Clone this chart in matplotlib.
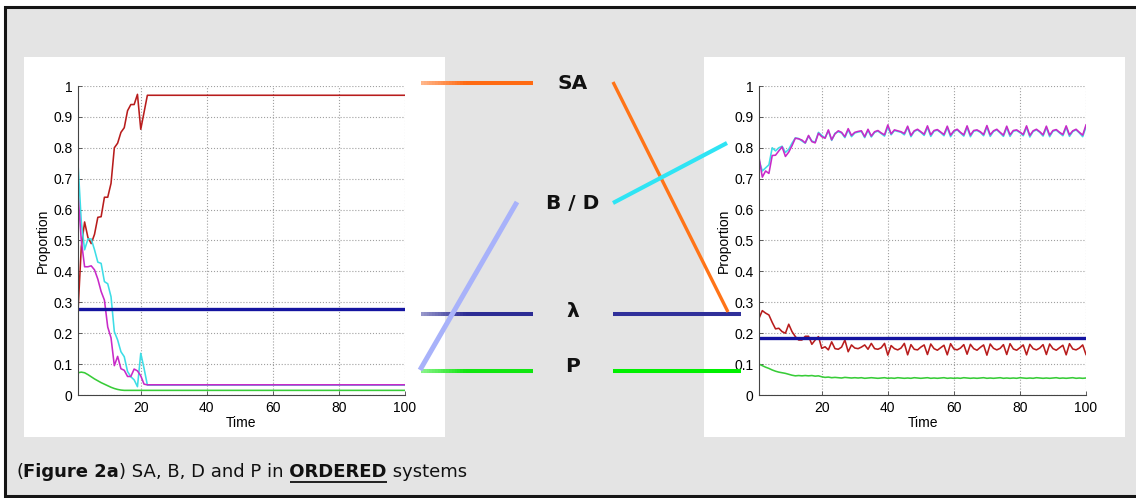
import numpy as np
import matplotlib.pyplot as plt
from matplotlib.patches import Rectangle
from matplotlib.collections import LineCollection
from matplotlib.colors import to_rgb

W, H = 1136, 498

time = np.arange(1, 101)

# ordered system, left panel
left_sa = [0.27, 0.48, 0.56, 0.51, 0.49, 0.52, 0.575, 0.577, 0.64, 0.64,
           0.685, 0.80, 0.815, 0.85, 0.865, 0.92, 0.94, 0.94, 0.973, 0.86,
           0.915, 0.97] + [0.97] * 78
left_b = [0.75, 0.56, 0.47, 0.505, 0.505, 0.47, 0.43, 0.426, 0.367, 0.36,
          0.318, 0.205, 0.178, 0.14, 0.124, 0.076, 0.059, 0.049, 0.027, 0.135,
          0.086, 0.032] + [0.032] * 78
left_d = [0.65, 0.50, 0.415, 0.415, 0.418, 0.405, 0.375, 0.335, 0.307, 0.22,
          0.185, 0.095, 0.125, 0.085, 0.08, 0.06, 0.06, 0.084, 0.078, 0.062,
          0.035, 0.033] + [0.033] * 78
left_p = [0.072, 0.074, 0.072, 0.066, 0.059, 0.052, 0.046, 0.040, 0.035, 0.030,
          0.025, 0.021, 0.018, 0.016, 0.015] + [0.015] * 85
left_lambda = 0.277

# right panel
right_sa = [0.248, 0.273, 0.265, 0.259, 0.235, 0.214, 0.216, 0.205, 0.200, 0.229,
            0.205, 0.189, 0.178, 0.178, 0.190, 0.190, 0.164, 0.178, 0.189, 0.151,
            0.156, 0.146, 0.172, 0.150, 0.148, 0.155, 0.178, 0.140, 0.162, 0.152,
            0.150, 0.155, 0.162, 0.148, 0.167, 0.150, 0.148, 0.153, 0.167, 0.129,
            0.160, 0.150, 0.146, 0.152, 0.167, 0.130, 0.163, 0.148, 0.146, 0.155,
            0.162, 0.131, 0.165, 0.150, 0.145, 0.153, 0.161, 0.130, 0.166, 0.149,
            0.146, 0.152, 0.163, 0.132, 0.164, 0.150, 0.145, 0.154, 0.162, 0.129,
            0.165, 0.151, 0.146, 0.151, 0.163, 0.131, 0.166, 0.149, 0.145, 0.153,
            0.162, 0.130, 0.164, 0.150, 0.146, 0.152, 0.163, 0.131, 0.165, 0.150,
            0.145, 0.153, 0.161, 0.130, 0.166, 0.149, 0.146, 0.152, 0.162, 0.131]
right_b = [0.760, 0.725, 0.735, 0.745, 0.800, 0.790, 0.800, 0.805, 0.785, 0.795,
           0.815, 0.832, 0.830, 0.822, 0.815, 0.838, 0.822, 0.818, 0.850, 0.840,
           0.832, 0.855, 0.824, 0.847, 0.852, 0.848, 0.833, 0.858, 0.836, 0.848,
           0.851, 0.853, 0.833, 0.857, 0.835, 0.850, 0.854, 0.846, 0.838, 0.868,
           0.842, 0.856, 0.853, 0.850, 0.842, 0.866, 0.836, 0.853, 0.858, 0.850,
           0.840, 0.866, 0.837, 0.854, 0.857, 0.849, 0.839, 0.865, 0.836, 0.853,
           0.858, 0.848, 0.838, 0.866, 0.836, 0.854, 0.856, 0.850, 0.839, 0.867,
           0.837, 0.853, 0.858, 0.848, 0.837, 0.865, 0.837, 0.854, 0.856, 0.849,
           0.839, 0.866, 0.835, 0.853, 0.858, 0.850, 0.838, 0.865, 0.836, 0.854,
           0.857, 0.848, 0.839, 0.866, 0.837, 0.853, 0.858, 0.848, 0.836, 0.868]
right_d = [0.770, 0.705, 0.725, 0.717, 0.775, 0.776, 0.790, 0.803, 0.772, 0.786,
           0.807, 0.831, 0.829, 0.825, 0.816, 0.840, 0.820, 0.816, 0.847, 0.836,
           0.831, 0.858, 0.826, 0.845, 0.855, 0.850, 0.836, 0.862, 0.840, 0.850,
           0.853, 0.855, 0.836, 0.860, 0.838, 0.852, 0.856, 0.848, 0.842, 0.874,
           0.845, 0.858, 0.855, 0.852, 0.846, 0.870, 0.840, 0.855, 0.860, 0.852,
           0.844, 0.871, 0.842, 0.856, 0.859, 0.851, 0.843, 0.870, 0.841, 0.855,
           0.860, 0.850, 0.842, 0.871, 0.841, 0.856, 0.858, 0.852, 0.843, 0.872,
           0.842, 0.855, 0.860, 0.850, 0.841, 0.870, 0.842, 0.856, 0.858, 0.851,
           0.843, 0.871, 0.840, 0.855, 0.860, 0.852, 0.842, 0.870, 0.841, 0.856,
           0.859, 0.850, 0.843, 0.871, 0.842, 0.855, 0.860, 0.850, 0.841, 0.874]
right_p = [0.100, 0.095, 0.090, 0.086, 0.081, 0.077, 0.074, 0.072, 0.070, 0.067,
           0.064, 0.062, 0.063, 0.062, 0.063, 0.062, 0.063, 0.061, 0.062, 0.059,
           0.057, 0.058, 0.056, 0.057, 0.056, 0.055, 0.057, 0.056, 0.055, 0.056,
           0.055, 0.056, 0.054, 0.055, 0.056, 0.055, 0.054, 0.055, 0.056, 0.054,
           0.055, 0.054, 0.056, 0.055, 0.054, 0.055, 0.054, 0.056, 0.055, 0.054,
           0.055, 0.056, 0.054, 0.055, 0.054, 0.055, 0.056, 0.054, 0.055, 0.054,
           0.055, 0.054, 0.056, 0.055, 0.054, 0.055, 0.054, 0.055, 0.056, 0.054,
           0.055, 0.054, 0.055, 0.056, 0.054, 0.055, 0.054, 0.055, 0.054, 0.056,
           0.055, 0.054, 0.055, 0.054, 0.056, 0.055, 0.054, 0.055, 0.054, 0.055,
           0.056, 0.054, 0.055, 0.054, 0.055, 0.056, 0.054, 0.055, 0.054, 0.055]
right_lambda = 0.183

x_ticks = [20, 40, 60, 80, 100]
y_ticks = [0, 0.1, 0.2, 0.3, 0.4, 0.5, 0.6, 0.7, 0.8, 0.9, 1]
y_tick_labels = ['0', '0.1', '0.2', '0.3', '0.4', '0.5', '0.6', '0.7', '0.8', '0.9', '1']

col_sa = '#b81c1c'
col_b = '#3ddde6'
col_d = '#c82ac8'
col_lam = '#1414a0'
col_p = '#38cc38'

fig = plt.figure(figsize=(W / 100, H / 100), dpi=100)
fig.patch.set_facecolor('white')

# background layer in pixel coordinates
bg = fig.add_axes([0, 0, 1, 1], zorder=0)
bg.set_xlim(0, W)
bg.set_ylim(H, 0)
bg.axis('off')
bg.add_patch(Rectangle((5, 7), W + 10, 489, facecolor='#e4e4e4',
                       edgecolor='#151515', lw=2.2))
bg.add_patch(Rectangle((24, 57), 421, 380, facecolor='white', edgecolor='none'))
bg.add_patch(Rectangle((704, 57), 421, 380, facecolor='white', edgecolor='none'))


def panel(x0, sa, b, d, lam, p):
    ax = fig.add_axes([x0 / W, 1 - 395 / H, 327 / W, 309 / H], zorder=1)
    ax.set_facecolor('white')
    ax.plot(time, sa, color=col_sa, lw=1.15)
    ax.plot(time, b, color=col_b, lw=1.15)
    ax.plot(time, d, color=col_d, lw=1.15)
    ax.axhline(lam, color=col_lam, lw=2.4)
    ax.plot(time, p, color=col_p, lw=1.15)
    ax.set_xlim(1, 100)
    ax.set_ylim(0, 1)
    ax.set_xticks(x_ticks)
    ax.set_yticks(y_ticks)
    ax.set_yticklabels(y_tick_labels)
    ax.grid(True, ls=':', color='#a0a0a0', lw=0.8)
    for s in ['top', 'right']:
        ax.spines[s].set_visible(False)
    for s in ['left', 'bottom']:
        ax.spines[s].set_color('#444444')
        ax.spines[s].set_linewidth(0.8)
    ax.tick_params(direction='in', length=3, width=0.6, color='#444444',
                   labelsize=10, pad=4)
    for lbl in ax.get_xticklabels() + ax.get_yticklabels():
        lbl.set_fontfamily('Liberation Sans')
    ax.set_xlabel('Time', fontfamily='Liberation Sans', fontsize=10, labelpad=1)
    ax.set_ylabel('Proportion', fontfamily='Liberation Sans', fontsize=10, labelpad=2)
    return ax


panel(78, left_sa, left_b, left_d, left_lambda, left_p)
panel(759, right_sa, right_b, right_d, right_lambda, right_p)

# connector layer drawn over both panels
ov = fig.add_axes([0, 0, 1, 1], zorder=3)
ov.set_xlim(0, W)
ov.set_ylim(H, 0)
ov.axis('off')
ov.patch.set_alpha(0)


def faded(x0, x1, y, color, lw):
    # horizontal stub that brightens from the left end
    xs = np.linspace(x0, x1, 41)
    segs = [[(xs[i], y), (xs[i + 1], y)] for i in range(40)]
    base = np.array(to_rgb(color))
    cols = []
    for i in range(40):
        f = min(1.0, 0.5 + i / 40 * 1.3)
        cols.append(base * f + np.ones(3) * (1 - f))
    ov.add_collection(LineCollection(segs, colors=cols, linewidths=lw,
                                     capstyle='butt'))


faded(421, 533, 83, '#ff6a12', 2.9)
faded(421, 533, 314, '#2c2c94', 2.9)
faded(421, 533, 371, '#10e610', 2.9)
ov.plot([613, 741], [314, 314], color='#30309a', lw=2.9, solid_capstyle='butt')
ov.plot([613, 741], [371, 371], color='#00f000', lw=2.9, solid_capstyle='butt')
ov.plot([613, 728], [82, 312], color='#ff7418', lw=2.4, solid_capstyle='butt')
ov.plot([613, 727], [203, 143], color='#2fe4f4', lw=3.0, solid_capstyle='butt')
ov.plot([517, 420], [202, 370], color='#a8b2fa', lw=3.6, solid_capstyle='butt')

for label, yc in [('SA', 83), ('B / D', 203), ('λ', 311), ('P', 366)]:
    ov.text(573, yc, label, ha='center', va='center', fontsize=14.5,
            fontweight='bold', fontfamily='DejaVu Sans', color='#111111')

# caption with bold and underlined parts
cap_size = 13
fig.canvas.draw()
renderer = fig.canvas.get_renderer()
parts = [('(', 'normal'), ('Figure 2a', 'bold'), (') SA, B, D and P in', 'normal'),
         (' ORDERED', 'bold'), (' systems', 'normal')]
prev = ov.text(16, 477, parts[0][0], fontsize=cap_size, fontweight=parts[0][1],
               va='baseline', ha='left', color='#111111')
texts = [prev]
for s, w in parts[1:]:
    prev = ov.annotate(s, xy=(1, 0), xycoords=prev, fontsize=cap_size, fontweight=w,
                       va='bottom', ha='left', color='#111111')
    texts.append(prev)
fig.canvas.draw()
ordered = texts[3]
ext = ordered.get_window_extent(renderer)
probe = ov.text(0, 0, 'ORDERED', fontsize=cap_size, fontweight='bold')
wpx = probe.get_window_extent(renderer).width
probe.remove()
ux1 = ext.x1
ux0 = ux1 - wpx
uy = H - ext.y0 + 1
ov.plot([ux0, ux1], [uy, uy], color='#111111', lw=1.3, solid_capstyle='butt')

fig.savefig('out.png', dpi=100)
